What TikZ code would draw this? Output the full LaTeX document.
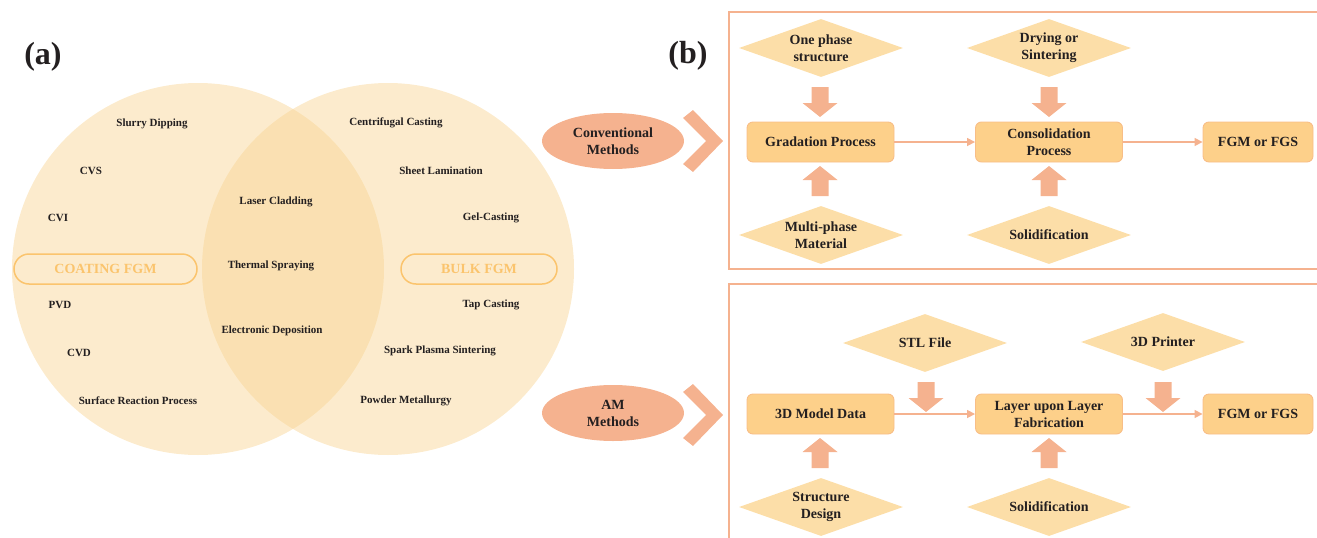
\documentclass[tikz,border=0pt]{standalone}
\usepackage{fontspec}
\setmainfont{Liberation Serif}
\usetikzlibrary{shapes.geometric,arrows.meta}
\definecolor{venn}{RGB}{248,211,144}
\definecolor{tagc}{RGB}{251,196,109}
\definecolor{salmon}{RGB}{245,178,143}
\definecolor{dia}{RGB}{252,222,168}
\definecolor{boxf}{RGB}{253,208,138}
\definecolor{boxd}{RGB}{248,190,135}
\definecolor{txt}{RGB}{35,31,32}
\tikzset{
  vlabel/.style={text=txt,font=\fontsize{11}{13}\selectfont\bfseries},
  tagbox/.style={draw=tagc,line width=1.5pt,rounded corners=15pt,text=tagc,
    minimum height=30pt,inner sep=0pt,font=\fontsize{14}{16}\selectfont\bfseries},
  bfont/.style={text=txt,font=\fontsize{14}{17}\selectfont\bfseries,align=center},
  dnode/.style={bfont,diamond,aspect=2.8,fill=dia,minimum width=164pt,minimum height=58pt,inner sep=0pt},
  pbox/.style={bfont,draw=boxd,fill=boxf,line width=0.9pt,rounded corners=6pt,
    minimum width=147pt,minimum height=40pt,inner sep=0pt},
  enode/.style={ellipse,fill=salmon,text=txt,minimum width=142pt,minimum height=56pt,
    inner sep=0pt,align=center,font=\fontsize{14}{17}\selectfont\bfseries},
  thinarrow/.style={draw=salmon,line width=1.6pt,-{Triangle[length=8pt,width=8pt]}},
  panel/.style={draw=salmon,line width=1.2pt},
  biglabel/.style={text=txt,font=\fontsize{32}{34}\selectfont\bfseries},
  pics/downblock/.style={code={\fill[salmon] (-8.5,-15) -- (8.5,-15) -- (8.5,1) -- (17.5,1) -- (0,15) -- (-17.5,1) -- (-8.5,1) -- cycle;}},
  pics/upblock/.style={code={\fill[salmon] (-8.5,15) -- (8.5,15) -- (8.5,-1) -- (17.5,-1) -- (0,-15) -- (-17.5,-1) -- (-8.5,-1) -- cycle;}},
  pics/chevron/.style={code={\fill[salmon] (-10,-31) -- (20,0) -- (-10,31) -- (-20,23) -- (3,0) -- (-20,-23) -- cycle;}}
}
\begin{document}
\begin{tikzpicture}[x=1pt,y=-1pt]
\useasboundingbox (0,0) rectangle (1317,538);
% ---------- (a) Venn ----------
\node[biglabel] (la) at (43,57) {(a)};
\fill[venn,opacity=0.45] (198,269) circle (186);
\fill[venn,opacity=0.45] (388,269) circle (186);
\node[tagbox,minimum width=183pt] (coat) at (105.5,269) {COATING FGM};
\node[tagbox,minimum width=156pt] (bulk) at (479,269) {BULK FGM};
\node[vlabel] (v1) at (152,124) {Slurry Dipping};
\node[vlabel] (v2) at (91,171) {CVS};
\node[vlabel] (v3) at (58,218) {CVI};
\node[vlabel] (v4) at (60,305) {PVD};
\node[vlabel] (v5) at (79,353) {CVD};
\node[vlabel] (v6) at (138,401) {Surface Reaction Process};
\node[vlabel] (v7) at (276,202) {Laser Cladding};
\node[vlabel] (v8) at (271,266) {Thermal Spraying};
\node[vlabel] (v9) at (272,331) {Electronic Deposition};
\node[vlabel] (v10) at (396,123) {Centrifugal Casting};
\node[vlabel] (v11) at (441,171) {Sheet Lamination};
\node[vlabel] (v12) at (491,218) {Gel-Casting};
\node[vlabel] (v13) at (491,305) {Tap Casting};
\node[vlabel] (v14) at (440,351) {Spark Plasma Sintering};
\node[vlabel] (v15) at (406,401) {Powder Metallurgy};
% ---------- (b) ----------
\node[biglabel] (lb) at (688,56) {(b)};
\node[enode] (conv) at (613,141) {Conventional\\Methods};
\node[enode] (am) at (613,413) {AM\\Methods};
\pic at (703,141) {chevron};
\pic at (703,415) {chevron};
\draw[panel] (1320,12) -- (729,12) -- (729,269) -- (1320,269);
\draw[panel] (1320,284) -- (729,284) -- (729,542);
% top panel
\node[dnode] (d1) at (821,48) {One phase\\structure};
\node[dnode] (d2) at (821,235) {Multi-phase\\Material};
\node[dnode] (d3) at (1049,48) {Drying or\\Sintering};
\node[dnode] (d4) at (1049,235) {Solidification};
\node[pbox] (g) at (820.5,142) {Gradation Process};
\node[pbox] (c) at (1049,142) {Consolidation\\Process};
\node[pbox,minimum width=110pt] (f1) at (1258,142) {FGM or FGS};
\pic at (820,102) {downblock};
\pic at (820,181) {upblock};
\pic at (1049,102) {downblock};
\pic at (1049,181) {upblock};
\draw[thinarrow] (g.east) -- (c.west);
\draw[thinarrow] (c.east) -- (f1.west);
% bottom panel
\node[dnode] (d5) at (925,343) {STL File};
\node[dnode] (d6) at (1163,342) {3D Printer};
\node[dnode] (d7) at (821,507) {Structure\\Design};
\node[dnode] (d8) at (1049,507) {Solidification};
\node[pbox] (m) at (820.5,414) {3D Model Data};
\node[pbox] (l) at (1049,414) {Layer upon Layer\\Fabrication};
\node[pbox,minimum width=110pt] (f2) at (1258,414) {FGM or FGS};
\draw[thinarrow] (m.east) -- (l.west);
\draw[thinarrow] (l.east) -- (f2.west);
\pic at (926,397) {downblock};
\pic at (1163,397) {downblock};
\pic at (820,453) {upblock};
\pic at (1049,453) {upblock};
\end{tikzpicture}
\end{document}
